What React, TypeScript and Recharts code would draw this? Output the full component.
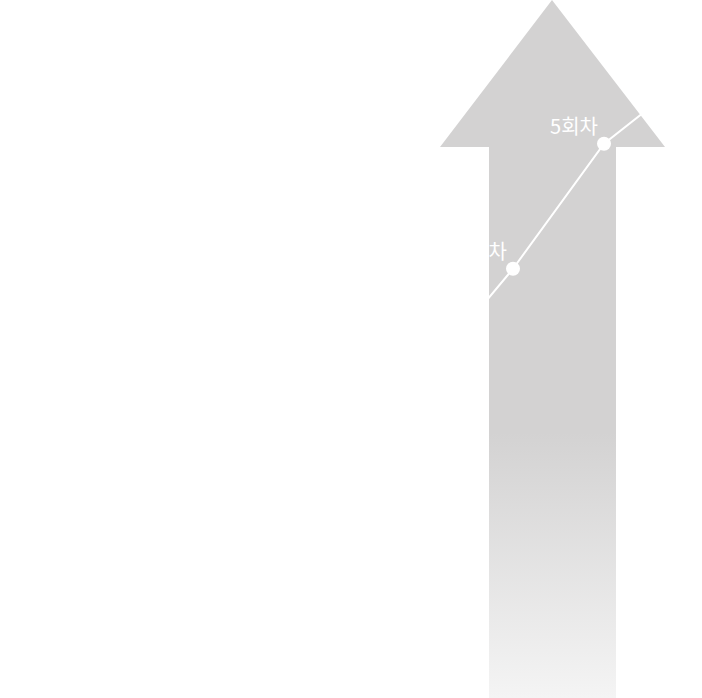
import { Line, LineChart, XAxis, YAxis, LabelList } from "recharts";

const rounds = ["1회차", "2회차", "3회차", "4회차", "5회차", "6회차"];
const scores = [15, 30, 45.6, 62.2, 81.2, 92.1];

const data = rounds.map((round, i) => ({ round, score: scores[i] }));

const W = 702;
const H = 698;

function RoundLabel(props: any) {
  const { x, y, value } = props;
  return (
    <text
      x={x - 6}
      y={y - 10}
      textAnchor="end"
      fill="#ffffff"
      fontSize={20}
      fontFamily="'Noto Sans CJK KR', 'Noto Sans', sans-serif"
    >
      {value}
    </text>
  );
}

export default function App() {
  return (
    <div style={{ position: "relative", width: W, height: H, background: "#fff" }}>
      <style>{`body{margin:0}`}</style>
      {/* background arrow */}
      <svg width={W} height={H} style={{ position: "absolute", left: 0, top: 0 }}>
        <defs>
          <linearGradient id="arrowFade" x1="0" y1="0" x2="0" y2="1">
            <stop offset="0%" stopColor="#d3d2d2" />
            <stop offset="62%" stopColor="#d3d2d2" />
            <stop offset="100%" stopColor="#f4f4f4" />
          </linearGradient>
        </defs>
        <polygon
          points="552,0 665,147 616,147 616,698 489,698 489,147 440,147"
          fill="url(#arrowFade)"
        />
      </svg>
      <div style={{ position: "absolute", left: 0, top: 0 }}>
        <LineChart
          width={W}
          height={H}
          data={data}
          margin={{ top: 20, right: 7, bottom: 20, left: 240 }}
        >
          <XAxis dataKey="round" hide padding={{ left: 0, right: 0 }} />
          <YAxis hide domain={[0, 100]} />
          <Line
            type="linear"
            dataKey="score"
            stroke="#ffffff"
            strokeWidth={2}
            dot={{ r: 7, fill: "#ffffff", stroke: "none" }}
            activeDot={false}
            isAnimationActive={false}
          >
            <LabelList dataKey="round" content={RoundLabel} />
          </Line>
        </LineChart>
      </div>
    </div>
  );
}
